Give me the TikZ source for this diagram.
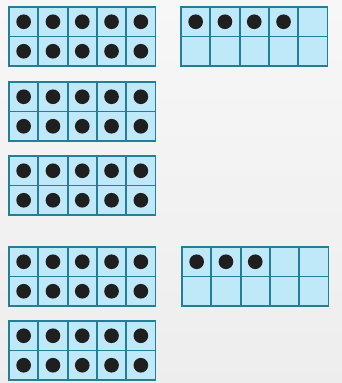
\documentclass[tikz,border=0pt]{standalone}
\usepackage{tikz}
\usetikzlibrary{positioning}
\definecolor{framefill}{HTML}{BFE8F8}
\definecolor{frameline}{HTML}{237F96}
\definecolor{pagebg}{HTML}{F7F7F7}
\begin{document}
\begin{tikzpicture}[x=0.03cm, y=-0.03cm,
  cell/.style={draw=frameline, fill=framefill, line width=1.6pt},
  counter/.style={fill=black!88}]
  \useasboundingbox (0,0) rectangle (342,383);
  \shade[top color=pagebg, bottom color=black!7] (0,0) rectangle (342,383);
  % ten frames: left x, top y, number of counters
  \foreach \fx/\fy/\n in {9/7/10, 9/82/10, 9/156/10, 181/7/4,
                          9/247/10, 9/321/10, 182/247/3} {
    \foreach \c in {0,...,4}
      \foreach \r in {0,1}
        \draw[cell] ({\fx+\c*29.3},{\fy+\r*29.5}) rectangle ++(29.3,29.5);
    \foreach \k [evaluate=\k as \col using {int(mod(\k-1,5))},
                 evaluate=\k as \row using {int((\k-1)/5)}] in {1,...,\n}
      \fill[counter] ({\fx+(\col+0.5)*29.3},{\fy+(\row+0.5)*29.5}) circle[radius=0.22cm];
  }
\end{tikzpicture}
\end{document}
